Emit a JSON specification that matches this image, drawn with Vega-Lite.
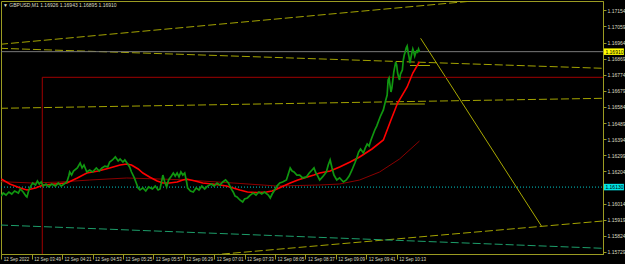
{
  "$schema": "https://vega.github.io/schema/vega-lite/v6.json",
  "width": 602,
  "height": 253,
  "autosize": {"type": "none"},
  "padding": {"left": 1, "top": 1, "right": 22, "bottom": 10},
  "background": "#000000",
  "config": {"view": {"stroke": "#9b9b22", "strokeWidth": 1}},
  "title": {"text": "▼ GBPUSD,M1  1.16926 1.16943 1.16895 1.16910", "anchor": "start", "frame": "group", "offset": -7, "dx": 2, "fontSize": 5, "font": "Liberation Sans", "fontWeight": "normal", "color": "#dcdcc0"},
  "encoding": {
    "x": {"field": "t", "type": "quantitative",
      "scale": {"domain": [196.7, 830.1], "nice": false, "zero": false},
      "axis": {"orient": "bottom", "title": null, "grid": false,
        "values": [197, 229, 261, 293, 325, 357, 389, 421, 453, 485, 517, 549, 581, 613],
        "labelExpr": "datum.value == 197 ? '12 Sep 2022' : '12 Sep ' + (floor(datum.value/60) < 10 ? '0' : '') + floor(datum.value/60) + ':' + (datum.value % 60 < 10 ? '0' : '') + (datum.value % 60)",
        "labelAlign": "left", "labelBaseline": "top", "labelFlush": false, "labelOverlap": false, "labelBound": false,
        "tickSize": 5, "labelPadding": -3, "labelOffset": 2,
        "domainColor": "#9b9b22", "tickColor": "#9b9b22", "labelColor": "#dcdcc0",
        "labelFont": "Liberation Sans", "labelFontSize": 4.5}},
    "y": {"field": "p", "type": "quantitative",
      "scale": {"domain": [1.157162, 1.172089], "nice": false, "zero": false},
      "axis": {"orient": "right", "title": null, "grid": false,
        "values": [1.17154, 1.17059, 1.16964, 1.16869, 1.16774, 1.16679, 1.16584, 1.16489, 1.16394, 1.16299, 1.16204, 1.16014, 1.15919, 1.15824, 1.15729],
        "format": ".5f", "labelOverlap": false, "labelBound": false, "labelFlush": false,
        "tickSize": 3, "labelPadding": 1, "labelAlign": "left", "labelBaseline": "middle",
        "domainColor": "#9b9b22", "tickColor": "#9b9b22", "labelColor": "#dcdcc0",
        "labelFont": "Liberation Sans", "labelFontSize": 5}}
  },
  "layer": [
    {
      "data": {"values": [
        {"id": "top", "t": 195.65, "p": 1.169534}, {"id": "top", "t": 830.0, "p": 1.172791},
        {"id": "mid", "t": 195.65, "p": 1.169298}, {"id": "mid", "t": 830.0, "p": 1.168118},
        {"id": "low", "t": 195.65, "p": 1.165758}, {"id": "low", "t": 830.0, "p": 1.166348},
        {"id": "bot", "t": 406.05, "p": 1.157044}, {"id": "bot", "t": 830.0, "p": 1.159109}
      ]},
      "mark": {"type": "line", "clip": true, "color": "#a3a300", "strokeWidth": 1, "strokeDash": [8, 3]},
      "encoding": {"detail": {"field": "id"}}
    },
    {
      "data": {"values": [{"t": 195.65, "p": 1.158873}, {"t": 830.0, "p": 1.157498}]},
      "mark": {"type": "line", "clip": true, "color": "#1d9e6a", "strokeWidth": 1, "strokeDash": [8, 3]},
      "encoding": {}
    },
    {
      "data": {"values": [
        {"id": "diag", "t": 638.2, "p": 1.169888}, {"id": "diag", "t": 765.5, "p": 1.158796},
        {"id": "s1", "t": 627.0, "p": 1.168283}, {"id": "s1", "t": 648.0, "p": 1.168283},
        {"id": "s2", "t": 606.0, "p": 1.166012}, {"id": "s2", "t": 642.7, "p": 1.166012}
      ]},
      "mark": {"type": "line", "clip": true, "color": "#a8a800", "strokeWidth": 1},
      "encoding": {"detail": {"field": "id"}}
    },
    {
      "data": {"values": [{"t": 196.7, "t2": 830.1, "p": 1.16910}]},
      "mark": {"type": "rule", "color": "#7a7a7a", "strokeWidth": 1},
      "encoding": {"x2": {"field": "t2"}}
    },
    {
      "data": {"values": [{"t": 196.7, "t2": 830.1, "p": 1.16111}]},
      "mark": {"type": "rule", "color": "#00c8c8", "strokeWidth": 1, "strokeDash": [1, 2]},
      "encoding": {"x2": {"field": "t2"}}
    },
    {
      "data": {"values": [
        {"t": 240.15, "t2": 830.1, "p": 1.167587, "p2": 1.167587},
        {"t": 240.15, "t2": 240.15, "p": 1.167587, "p2": 1.15716}
      ]},
      "mark": {"type": "rule", "color": "#a00000", "strokeWidth": 1},
      "encoding": {"x2": {"field": "t2"}, "y2": {"field": "p2"}}
    },
    {
      "data": {"values": [
        {"t": 197, "p": 1.161428}, {"t": 230, "p": 1.161351}, {"t": 259, "p": 1.16141}, {"t": 290, "p": 1.161528},
        {"t": 329, "p": 1.161646}, {"t": 364, "p": 1.161587}, {"t": 392, "p": 1.161528}, {"t": 441, "p": 1.161351},
        {"t": 487, "p": 1.161174}, {"t": 532, "p": 1.161233}, {"t": 553, "p": 1.161292}, {"t": 574, "p": 1.161528},
        {"t": 595, "p": 1.162}, {"t": 616, "p": 1.162767}, {"t": 637, "p": 1.163829}
      ]},
      "mark": {"type": "line", "clip": true, "color": "#8b0000", "strokeWidth": 1},
      "encoding": {}
    },
    {
      "data": {"values": [
        {"t": 197, "p": 1.161587}, {"t": 206, "p": 1.161292}, {"t": 217, "p": 1.161056}, {"t": 224, "p": 1.160938},
        {"t": 233, "p": 1.161056}, {"t": 241, "p": 1.161233}, {"t": 254, "p": 1.161292}, {"t": 266, "p": 1.161351},
        {"t": 277, "p": 1.161646}, {"t": 287, "p": 1.161941}, {"t": 299, "p": 1.162059}, {"t": 311, "p": 1.162236},
        {"t": 322, "p": 1.162413}, {"t": 329, "p": 1.162472}, {"t": 334, "p": 1.162413}, {"t": 341, "p": 1.162177},
        {"t": 346, "p": 1.161941}, {"t": 353, "p": 1.161705}, {"t": 361, "p": 1.161469}, {"t": 367, "p": 1.161351},
        {"t": 374, "p": 1.161351}, {"t": 382, "p": 1.16141}, {"t": 388, "p": 1.161528}, {"t": 392, "p": 1.161587},
        {"t": 401, "p": 1.161469}, {"t": 409, "p": 1.161351}, {"t": 419, "p": 1.161292}, {"t": 427, "p": 1.161233},
        {"t": 434, "p": 1.161174}, {"t": 441, "p": 1.161056}, {"t": 448, "p": 1.160938}, {"t": 456, "p": 1.16082},
        {"t": 466, "p": 1.16079}, {"t": 476, "p": 1.16082}, {"t": 482, "p": 1.160879}, {"t": 487, "p": 1.160997},
        {"t": 494, "p": 1.161174}, {"t": 501, "p": 1.161351}, {"t": 509, "p": 1.161528}, {"t": 519, "p": 1.161705},
        {"t": 526, "p": 1.161823}, {"t": 532, "p": 1.161941}, {"t": 543, "p": 1.162059}, {"t": 553, "p": 1.162295},
        {"t": 564, "p": 1.16259}, {"t": 574, "p": 1.162885}, {"t": 587, "p": 1.163357}, {"t": 599, "p": 1.163888},
        {"t": 607, "p": 1.165068}, {"t": 614, "p": 1.166071}, {"t": 624, "p": 1.167015}, {"t": 630, "p": 1.167841},
        {"t": 635, "p": 1.168313}, {"t": 637, "p": 1.16849}
      ]},
      "mark": {"type": "line", "clip": true, "color": "#ff0000", "strokeWidth": 1.6},
      "encoding": {}
    },
    {
      "data": {"values": [
        {"t": 197, "p": 1.16058}, {"t": 199, "p": 1.16076}, {"t": 202, "p": 1.16064}, {"t": 205, "p": 1.16082},
        {"t": 208, "p": 1.1607}, {"t": 211, "p": 1.16088}, {"t": 215, "p": 1.16076}, {"t": 217, "p": 1.161},
        {"t": 220, "p": 1.16082}, {"t": 223, "p": 1.16058}, {"t": 224, "p": 1.16053}, {"t": 226, "p": 1.16094},
        {"t": 228, "p": 1.16117}, {"t": 230, "p": 1.16135}, {"t": 233, "p": 1.16123}, {"t": 235, "p": 1.16147},
        {"t": 237, "p": 1.16129}, {"t": 239, "p": 1.16141}, {"t": 241, "p": 1.16117}, {"t": 244, "p": 1.16129},
        {"t": 247, "p": 1.16112}, {"t": 250, "p": 1.16129}, {"t": 254, "p": 1.16117}, {"t": 257, "p": 1.16135},
        {"t": 260, "p": 1.16117}, {"t": 263, "p": 1.16129}, {"t": 266, "p": 1.16141}, {"t": 268, "p": 1.16176},
        {"t": 269, "p": 1.162}, {"t": 271, "p": 1.16182}, {"t": 273, "p": 1.16206}, {"t": 277, "p": 1.16224},
        {"t": 280, "p": 1.16253}, {"t": 282, "p": 1.16224}, {"t": 284, "p": 1.16241}, {"t": 287, "p": 1.162},
        {"t": 290, "p": 1.16212}, {"t": 293, "p": 1.162}, {"t": 297, "p": 1.16224}, {"t": 300, "p": 1.16206},
        {"t": 303, "p": 1.16224}, {"t": 306, "p": 1.16235}, {"t": 309, "p": 1.1623}, {"t": 311, "p": 1.16259},
        {"t": 314, "p": 1.16271}, {"t": 317, "p": 1.16289}, {"t": 320, "p": 1.16265}, {"t": 322, "p": 1.16277},
        {"t": 325, "p": 1.16259}, {"t": 327, "p": 1.16271}, {"t": 330, "p": 1.16247}, {"t": 332, "p": 1.1623},
        {"t": 334, "p": 1.162}, {"t": 337, "p": 1.16165}, {"t": 339, "p": 1.16135}, {"t": 341, "p": 1.16106},
        {"t": 343, "p": 1.16094}, {"t": 346, "p": 1.16106}, {"t": 349, "p": 1.16088}, {"t": 352, "p": 1.16112},
        {"t": 356, "p": 1.161}, {"t": 359, "p": 1.16117}, {"t": 362, "p": 1.16094}, {"t": 364, "p": 1.161},
        {"t": 366, "p": 1.16153}, {"t": 367, "p": 1.16182}, {"t": 369, "p": 1.16141}, {"t": 371, "p": 1.16112},
        {"t": 373, "p": 1.16153}, {"t": 376, "p": 1.16176}, {"t": 378, "p": 1.16194}, {"t": 380, "p": 1.16176},
        {"t": 382, "p": 1.16194}, {"t": 384, "p": 1.16171}, {"t": 386, "p": 1.162}, {"t": 388, "p": 1.16182},
        {"t": 390, "p": 1.16194}, {"t": 392, "p": 1.16141}, {"t": 393, "p": 1.16106}, {"t": 396, "p": 1.16088},
        {"t": 399, "p": 1.16082}, {"t": 402, "p": 1.16106}, {"t": 405, "p": 1.16094}, {"t": 408, "p": 1.16117},
        {"t": 411, "p": 1.161}, {"t": 414, "p": 1.16117}, {"t": 418, "p": 1.16129}, {"t": 421, "p": 1.16117},
        {"t": 424, "p": 1.16135}, {"t": 427, "p": 1.16123}, {"t": 430, "p": 1.16141}, {"t": 433, "p": 1.16153},
        {"t": 436, "p": 1.16135}, {"t": 439, "p": 1.161}, {"t": 441, "p": 1.16082}, {"t": 443, "p": 1.16058},
        {"t": 445, "p": 1.16053}, {"t": 448, "p": 1.16035}, {"t": 451, "p": 1.16023}, {"t": 453, "p": 1.16041},
        {"t": 456, "p": 1.16047}, {"t": 459, "p": 1.16064}, {"t": 462, "p": 1.16076}, {"t": 465, "p": 1.16064},
        {"t": 468, "p": 1.16082}, {"t": 471, "p": 1.1607}, {"t": 474, "p": 1.16082}, {"t": 478, "p": 1.16064},
        {"t": 480, "p": 1.16047}, {"t": 482, "p": 1.1607}, {"t": 484, "p": 1.16088}, {"t": 487, "p": 1.16117},
        {"t": 490, "p": 1.16135}, {"t": 493, "p": 1.16141}, {"t": 497, "p": 1.16153}, {"t": 499, "p": 1.16188},
        {"t": 501, "p": 1.16224}, {"t": 503, "p": 1.16206}, {"t": 505, "p": 1.162}, {"t": 508, "p": 1.16182},
        {"t": 511, "p": 1.16182}, {"t": 514, "p": 1.16165}, {"t": 518, "p": 1.16171}, {"t": 521, "p": 1.16194},
        {"t": 524, "p": 1.16212}, {"t": 526, "p": 1.16224}, {"t": 528, "p": 1.16194}, {"t": 530, "p": 1.16176},
        {"t": 532, "p": 1.16153}, {"t": 535, "p": 1.16171}, {"t": 539, "p": 1.162}, {"t": 541, "p": 1.16241},
        {"t": 543, "p": 1.16271}, {"t": 545, "p": 1.16224}, {"t": 547, "p": 1.16182}, {"t": 550, "p": 1.16153},
        {"t": 553, "p": 1.16165}, {"t": 557, "p": 1.16141}, {"t": 560, "p": 1.16153}, {"t": 563, "p": 1.16176},
        {"t": 566, "p": 1.16212}, {"t": 569, "p": 1.16253}, {"t": 571, "p": 1.16283}, {"t": 573, "p": 1.16318},
        {"t": 575, "p": 1.16336}, {"t": 578, "p": 1.16312}, {"t": 580, "p": 1.16342}, {"t": 582, "p": 1.16365},
        {"t": 584, "p": 1.16353}, {"t": 586, "p": 1.16389}, {"t": 588, "p": 1.16418}, {"t": 590, "p": 1.16448},
        {"t": 592, "p": 1.16471}, {"t": 594, "p": 1.16501}, {"t": 596, "p": 1.1653}, {"t": 599, "p": 1.16566},
        {"t": 601, "p": 1.16613}, {"t": 603, "p": 1.16654}, {"t": 604, "p": 1.16743}, {"t": 605, "p": 1.16755},
        {"t": 606, "p": 1.16713}, {"t": 607, "p": 1.16672}, {"t": 608, "p": 1.16696}, {"t": 609, "p": 1.16743},
        {"t": 610, "p": 1.1679}, {"t": 611, "p": 1.1682}, {"t": 612, "p": 1.16849}, {"t": 613, "p": 1.16831},
        {"t": 614, "p": 1.16784}, {"t": 615, "p": 1.16761}, {"t": 616, "p": 1.16743}, {"t": 617, "p": 1.16778},
        {"t": 619, "p": 1.16802}, {"t": 620, "p": 1.16861}, {"t": 621, "p": 1.1689}, {"t": 622, "p": 1.16908},
        {"t": 623, "p": 1.16932}, {"t": 624, "p": 1.16943}, {"t": 625, "p": 1.16908}, {"t": 626, "p": 1.16879},
        {"t": 627, "p": 1.16843}, {"t": 628, "p": 1.16873}, {"t": 629, "p": 1.16902}, {"t": 630, "p": 1.16926},
        {"t": 631, "p": 1.16908}, {"t": 632, "p": 1.16884}, {"t": 633, "p": 1.16902}, {"t": 634, "p": 1.16914},
        {"t": 635, "p": 1.16908}, {"t": 636, "p": 1.16926}, {"t": 637, "p": 1.1691}
      ]},
      "mark": {"type": "line", "clip": true, "color": "#109610", "strokeWidth": 1.7},
      "encoding": {}
    },
    {
      "data": {"values": [{"t": 831.06, "t2": 852.1, "p": 1.16910, "label": "1.16910"}]},
      "layer": [
        {"mark": {"type": "rule", "color": "#ffff00", "strokeWidth": 6.5, "strokeCap": "butt"}, "encoding": {"x2": {"field": "t2"}}},
        {"mark": {"type": "text", "align": "left", "baseline": "middle", "dx": 1.5, "font": "Liberation Sans", "fontSize": 5, "color": "#000000"}, "encoding": {"text": {"field": "label"}}}
      ]
    },
    {
      "data": {"values": [{"t": 831.06, "t2": 852.1, "p": 1.16111, "label": "1.16130"}]},
      "layer": [
        {"mark": {"type": "rule", "color": "#00e5e5", "strokeWidth": 6.5, "strokeCap": "butt"}, "encoding": {"x2": {"field": "t2"}}},
        {"mark": {"type": "text", "align": "left", "baseline": "middle", "dx": 1.5, "font": "Liberation Sans", "fontSize": 5, "color": "#000000"}, "encoding": {"text": {"field": "label"}}}
      ]
    }
  ]
}
